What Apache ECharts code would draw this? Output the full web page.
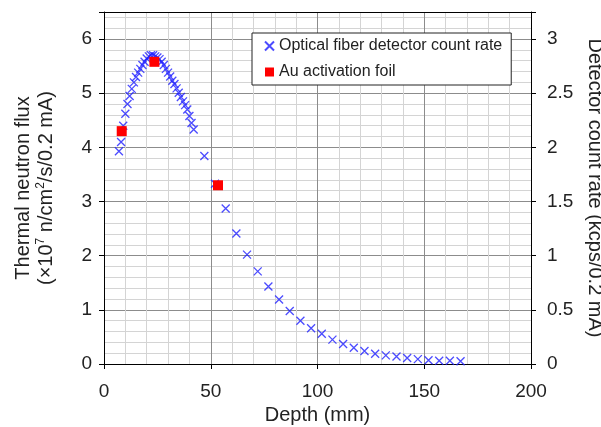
<!DOCTYPE html>
<html>
<head>
<meta charset="utf-8">
<script src="https://cdn.jsdelivr.net/npm/echarts@6/dist/echarts.min.js"></script>
<style>
  html, body { margin: 0; padding: 0; background: #fff; }
  #main { width: 601px; height: 427px; }
</style>
</head>
<body>
<div id="main"></div>
<script>
// optical fiber detector, depth in mm / count rate in kcps per 0.2 mA
var fiberDepth = [7, 8, 9, 10, 11, 12, 13, 14, 15, 16, 17, 18, 19, 20, 21, 22, 23, 24, 25,
    26, 27, 28, 29, 30, 31, 32, 33, 34, 35, 36, 37, 38, 39, 40, 41, 42,
    47, 52, 57, 62, 67, 72, 77, 82, 87, 92, 97, 102, 107, 112, 117, 122, 127, 132,
    137, 142, 147, 152, 157, 162, 167];
var fiberRate = [1.965, 2.05, 2.2, 2.31, 2.4, 2.475, 2.54, 2.6, 2.65, 2.69, 2.725, 2.76, 2.79, 2.82, 2.84, 2.85, 2.85, 2.84, 2.83,
    2.815, 2.79, 2.76, 2.725, 2.69, 2.655, 2.615, 2.585, 2.545, 2.505, 2.465, 2.425, 2.39, 2.35, 2.29, 2.225, 2.165,
    1.92, 1.665, 1.435, 1.205, 1.01, 0.855, 0.715, 0.595, 0.49, 0.4, 0.33, 0.28, 0.225, 0.185, 0.15, 0.12, 0.095, 0.08,
    0.07, 0.055, 0.045, 0.035, 0.03, 0.03, 0.025];

// Au activation foil, thermal neutron flux (x10^7 n/cm2/s/0.2 mA)
var foilDepth = [8.3, 23.6, 53.4];
var foilFlux = [4.3, 5.58, 3.3];

var seriesNames = ['Optical fiber detector count rate', 'Au activation foil'];
var fluxTicks = [0, 1, 2, 3, 4, 5, 6];
var rateTicks = [0, 0.5, 1, 1.5, 2, 2.5, 3];

var crossPath = 'path://M0,0L10,10M10,0L0,10';
var font = 'Liberation Sans, Arial, sans-serif';

function pairs(xs, ys) {
    var out = [];
    for (var i = 0; i < xs.length; i++) {
        out.push([xs[i], ys[i]]);
    }
    return out;
}

function onlyTicks(list) {
    return function (v) {
        for (var i = 0; i < list.length; i++) {
            if (Math.abs(list[i] - v) < 1e-6) return String(list[i]);
        }
        return '';
    };
}

var myChart = echarts.init(document.getElementById('main'));

var option = {
    animation: false,
    backgroundColor: '#fff',
    textStyle: { fontFamily: font },
    grid: {
        left: 104,
        right: 70,
        top: 12,
        bottom: 63,
        containLabel: false,
        outerBoundsMode: 'none'
    },
    legend: {
        orient: 'vertical',
        left: 252,
        top: 33,
        padding: [5, 9, 5, 12],
        itemGap: 10,
        itemWidth: 9,
        itemHeight: 9,
        backgroundColor: '#fff',
        borderColor: '#222',
        borderWidth: 1,
        textStyle: { fontFamily: font, fontSize: 16, color: '#222' },
        data: [
            { name: seriesNames[0], icon: crossPath },
            { name: seriesNames[1], icon: 'rect' }
        ]
    },
    xAxis: [{
        // only for the light 10 mm grid lines
        type: 'value',
        position: 'bottom',
        min: 0,
        max: 200,
        interval: 10,
        axisLine: { show: false },
        axisTick: { show: false },
        axisLabel: { show: false },
        splitLine: { show: true, lineStyle: { color: '#d4d4d4', width: 1 } }
    }, {
        type: 'value',
        position: 'bottom',
        min: 0,
        max: 200,
        interval: 50,
        name: 'Depth (mm)',
        nameLocation: 'middle',
        nameGap: 41,
        nameTextStyle: { fontFamily: font, fontSize: 20, color: '#222' },
        axisLine: { show: true, onZero: false, lineStyle: { color: '#000', width: 1 } },
        axisTick: { show: true, inside: false, length: 5, lineStyle: { color: '#000' } },
        axisLabel: { fontFamily: font, fontSize: 19, color: '#222', margin: 18 },
        splitLine: { show: true, lineStyle: { color: '#8c8c8c', width: 1 } }
    }, {
        // top frame line
        type: 'value',
        position: 'top',
        min: 0,
        max: 200,
        interval: 50,
        axisLine: { show: true, onZero: false, lineStyle: { color: '#000', width: 1 } },
        axisTick: { show: false },
        axisLabel: { show: false },
        splitLine: { show: false }
    }],
    yAxis: [{
        // only for the light 0.2 grid lines
        type: 'value',
        position: 'left',
        min: 0,
        max: 6.5,
        interval: 0.2,
        axisLine: { show: false },
        axisTick: { show: false },
        axisLabel: { show: false },
        splitLine: { show: true, lineStyle: { color: '#d4d4d4', width: 1 } }
    }, {
        type: 'value',
        position: 'left',
        min: 0,
        max: 6.5,
        interval: 1,
        name: 'Thermal neutron flux\n(×10{sup|7} n/cm{sup|2}/s/0.2 mA)',
        nameLocation: 'middle',
        nameRotate: 90,
        nameGap: 46,
        nameTextStyle: {
            fontFamily: font, fontSize: 20, color: '#222', lineHeight: 23,
            rich: {
                sup: { fontFamily: font, fontSize: 12, color: '#222', verticalAlign: 'top', lineHeight: 23 }
            }
        },
        axisLine: { show: true, onZero: false, lineStyle: { color: '#000', width: 1 } },
        axisTick: { show: true, inside: false, length: 5, lineStyle: { color: '#000' } },
        axisLabel: { fontFamily: font, fontSize: 19, color: '#222', margin: 12, formatter: onlyTicks(fluxTicks) },
        splitLine: { show: true, lineStyle: { color: '#8c8c8c', width: 1 } }
    }, {
        type: 'value',
        position: 'right',
        min: 0,
        max: 3.25,
        interval: 0.5,
        name: 'Detector count rate (kcps/0.2 mA)',
        nameLocation: 'middle',
        nameRotate: -90,
        nameGap: 45,
        nameTextStyle: { fontFamily: font, fontSize: 20, color: '#222' },
        axisLine: { show: true, onZero: false, lineStyle: { color: '#000', width: 1 } },
        axisTick: { show: true, inside: false, length: 5, lineStyle: { color: '#000' } },
        axisLabel: { fontFamily: font, fontSize: 19, color: '#222', margin: 16, formatter: onlyTicks(rateTicks) },
        splitLine: { show: false }
    }],
    series: [{
        name: seriesNames[0],
        type: 'scatter',
        xAxisIndex: 1,
        yAxisIndex: 2,
        symbol: crossPath,
        symbolSize: 8,
        itemStyle: { color: 'rgba(0,0,0,0)', borderColor: 'rgba(30,30,255,0.8)', borderWidth: 1.3, opacity: 1 },
        data: pairs(fiberDepth, fiberRate),
        z: 3
    }, {
        name: seriesNames[1],
        type: 'scatter',
        xAxisIndex: 1,
        yAxisIndex: 1,
        symbol: 'rect',
        symbolSize: 10,
        itemStyle: { color: '#ff0000', opacity: 1 },
        data: pairs(foilDepth, foilFlux),
        z: 4
    }]
};

myChart.setOption(option);
</script>
</body>
</html>
